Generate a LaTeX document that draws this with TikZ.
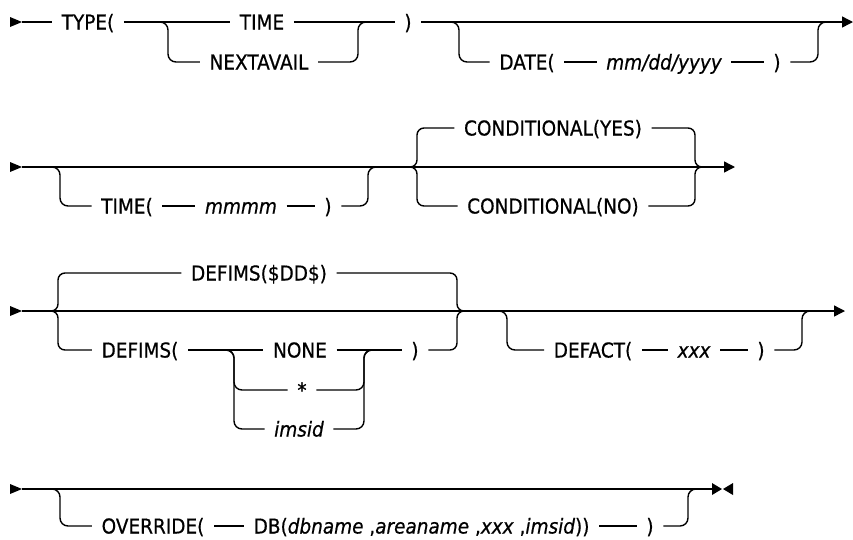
\documentclass[tikz,border=0pt]{standalone}
\usepackage{fontspec}
\setmainfont{DejaVu Sans}[FakeStretch=0.9,FakeBold=0.6]
\usetikzlibrary{calc,arrows.meta}
\begin{document}
\begin{tikzpicture}[x=1pt,y=-1pt,line width=1.4pt,
  lbl/.style={font=\fontsize{20.5}{24}\selectfont, text height=15pt, text depth=0pt, inner ysep=0pt, inner xsep=9pt},
  var/.style={lbl, font=\fontsize{20.5}{24}\selectfont\itshape},
  rc/.style={rounded corners=8pt},
  brc/.style={rounded corners=7pt},
  endarrow/.style={-{Triangle[length=11pt,width=11pt]}}]
\useasboundingbox (0,0) rectangle (853,539);
% ---------- Row 1 ----------
\coordinate (s1) at (22,22);
\coordinate (j1) at (168,22); \coordinate (j2) at (358,22);
\coordinate (j3) at (459,22); \coordinate (j4) at (818,22);
\coordinate (e1) at (853,22);
\node[lbl] (type) at (88,22) {TYPE(};
\node[lbl] (time) at (262,22) {TIME};
\node[lbl] (nextavail) at (259,62) {NEXTAVAIL};
\node[lbl] (rp1) at (408,22) {)};
\node[lbl] (date) at (527,62) {DATE(};
\node[var] (mdy) at (664,62) {mm/dd/yyyy};
\node[lbl] (rp2) at (777,62) {)};
\fill (s1) -- ++(-12,-5) -- ++(0,10) -- cycle;
\draw (s1) -- (type.west);
\draw (type.east) -- (time.west);
\draw (time.east) -- (rp1.west);
\draw[rc] ($(j1)+(-10,0)$) -| (j1 |- nextavail) -- (nextavail.west);
\draw[rc] (nextavail.east) -| (j2) -- ($(j2)+(10,0)$);
\draw[endarrow] (rp1.east) -- (e1);
\draw[rc] ($(j3)+(-10,0)$) -| (j3 |- date) -- (date.west);
\draw (date.east) -- (mdy.west);
\draw (mdy.east) -- (rp2.west);
\draw[rc] (rp2.east) -| (j4) -- ($(j4)+(10,0)$);
% ---------- Row 2 ----------
\coordinate (s2) at (22,167);
\coordinate (j5) at (60,167); \coordinate (j6) at (368,167);
\coordinate (k1) at (417,167); \coordinate (k2) at (695,167);
\coordinate (e2) at (735,167);
\node[lbl] (time2) at (127,206) {TIME(};
\node[var] (mmmm) at (241,206) {mmmm};
\node[lbl] (rp3) at (328,206) {)};
\node[lbl] (cyes) at (553,128) {CONDITIONAL(YES)};
\node[lbl] (cno) at (553,206) {CONDITIONAL(NO)};
\fill (s2) -- ++(-12,-5) -- ++(0,10) -- cycle;
\draw[endarrow] (s2) -- (e2);
\draw[rc] ($(j5)+(-10,0)$) -| (j5 |- time2) -- (time2.west);
\draw (time2.east) -- (mmmm.west);
\draw (mmmm.east) -- (rp3.west);
\draw[rc] (rp3.east) -| (j6) -- ($(j6)+(10,0)$);
\draw[brc] (cyes.west) -| (k1) -- ($(k1)+(-8,0)$);
\draw[brc] (cno.west) -| (k1) -- ($(k1)+(-8,0)$);
\draw[brc] (cyes.east) -| (k2) -- ($(k2)+(8,0)$);
\draw[brc] (cno.east) -| (k2) -- ($(k2)+(8,0)$);
% ---------- Row 3 ----------
\coordinate (s3) at (22,311); \coordinate (e3) at (845,311);
\coordinate (k3) at (58,311); \coordinate (k4) at (457,311);
\coordinate (j7) at (234,350); \coordinate (j8) at (364,350);
\coordinate (j9) at (507,311); \coordinate (j10) at (802,311);
\node[lbl] (defdd) at (259,273) {DEFIMS(\$DD\$)};
\node[lbl] (defims) at (140,350) {DEFIMS(};
\node[lbl] (none) at (300,350) {NONE};
\node[lbl] (star) at (302,390) {*};
\node[var] (imsid) at (299,429) {imsid};
\node[lbl] (rp4) at (415,350) {)};
\node[lbl] (defact) at (593,350) {DEFACT(};
\node[var] (xxx) at (694,350) {xxx};
\node[lbl] (rp5) at (761,350) {)};
\fill (s3) -- ++(-12,-5) -- ++(0,10) -- cycle;
\draw[endarrow] (s3) -- (e3);
\draw[brc] (defdd.west) -| (k3) -- ($(k3)+(-8,0)$);
\draw[brc] (defims.west) -| (k3) -- ($(k3)+(-8,0)$);
\draw[brc] (defdd.east) -| (k4) -- ($(k4)+(8,0)$);
\draw[brc] (rp4.east) -| (k4) -- ($(k4)+(8,0)$);
\draw (defims.east) -- (none.west);
\draw (none.east) -- (rp4.west);
\draw[rc] ($(j7)+(-10,0)$) -| (j7 |- star) -- (star.west);
\draw[rc] ($(j7)+(-10,0)$) -| (j7 |- imsid) -- (imsid.west);
\draw[rc] (star.east) -| (j8) -- ($(j8)+(10,0)$);
\draw[rc] (imsid.east) -| (j8) -- ($(j8)+(10,0)$);
\draw[rc] ($(j9)+(-10,0)$) -| (j9 |- defact) -- (defact.west);
\draw (defact.east) -- (xxx.west);
\draw (xxx.east) -- (rp5.west);
\draw[rc] (rp5.east) -| (j10) -- ($(j10)+(10,0)$);
% ---------- Row 4 ----------
\coordinate (s4) at (22,489); \coordinate (e4) at (712,489);
\coordinate (j11) at (60,489); \coordinate (j12) at (688,489);
\node[lbl] (override) at (153,526) {OVERRIDE(};
\node[lbl, anchor=west] (db) at (244,526) {DB(\textit{dbname} ,\textit{areaname} ,\textit{xxx} ,\textit{imsid}))};
\node[lbl] (rp6) at (650,526) {)};
\fill (s4) -- ++(-12,-5) -- ++(0,10) -- cycle;
\draw (s4) -- (e4);
\fill (e4) ++(0,-6) -- ++(10,6) -- ++(-10,6) -- cycle;
\fill ($(e4)+(21,-6)$) -- ++(-10,6) -- ++(10,6) -- cycle;
\draw[rc] ($(j11)+(-10,0)$) -| (j11 |- override) -- (override.west);
\draw (override.east) -- (db.west);
\draw (db.east) -- (rp6.west);
\draw[rc] (rp6.east) -| (j12) -- ($(j12)+(10,0)$);
\end{tikzpicture}
\end{document}
